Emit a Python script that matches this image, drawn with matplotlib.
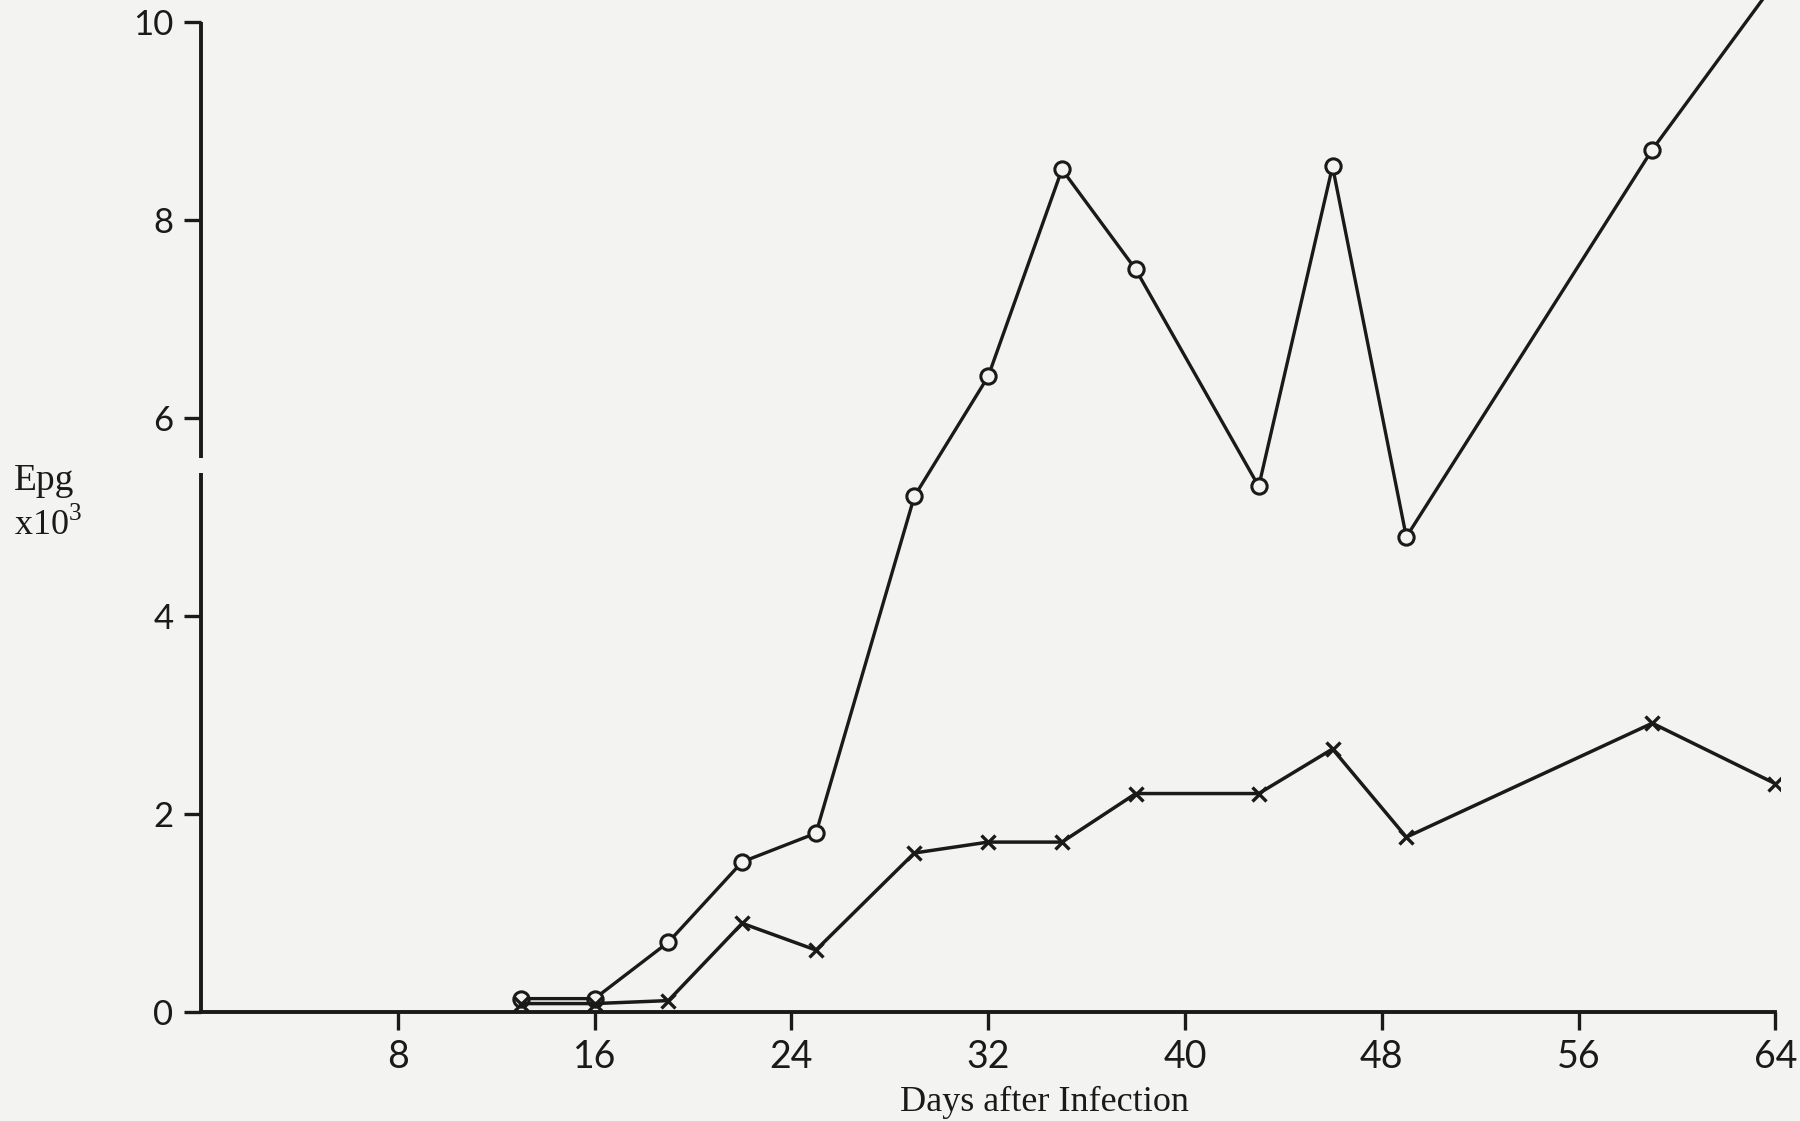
import matplotlib
matplotlib.use("Agg")
import matplotlib.pyplot as plt

# Eggs per gram (x10^3) by day after infection
days_o = [13, 16, 19, 22, 25, 29, 32, 35, 38, 43, 46, 49, 59, 64]
epg_o = [0.14, 0.14, 0.71, 1.52, 1.81, 5.21, 6.42, 8.51, 7.50, 5.31, 8.54, 4.80, 8.71, 10.4]

days_x = [13, 16, 19, 22, 25, 29, 32, 35, 38, 43, 46, 49, 59, 64]
epg_x = [0.09, 0.09, 0.12, 0.90, 0.63, 1.61, 1.72, 1.72, 2.21, 2.21, 2.66, 1.77, 2.92, 2.31]

x_ticks = [8, 16, 24, 32, 40, 48, 56, 64]
y_ticks = [0, 2, 4, 6, 8, 10]

paper = "#f3f3f1"
ink = "#1a1a1a"

plt.rcParams["mathtext.fontset"] = "custom"
plt.rcParams["mathtext.rm"] = "Liberation Serif"

fig = plt.figure(figsize=(18, 11.21), dpi=100, facecolor=paper)
ax = fig.add_axes([0.1117, 0.0968, 0.8773, 0.9032])
ax.set_facecolor(paper)

ax.plot(days_o, epg_o, color=ink, lw=2.4, marker="o", markersize=11,
        markerfacecolor=paper, markeredgecolor=ink, markeredgewidth=2.2, zorder=3)
ax.plot(days_x, epg_x, color=ink, lw=2.5, marker="x", markersize=10,
        markeredgewidth=2.4, zorder=3)

ax.set_xlim(0, 64.2)
ax.set_ylim(0, 10.22)

for s in ["top", "right", "left"]:
    ax.spines[s].set_visible(False)
ax.spines["bottom"].set_bounds(0, 64)
ax.spines["bottom"].set_linewidth(2.8)
ax.spines["bottom"].set_color(ink)

# broken y axis line (gap between 4 and 6)
ax.plot([0, 0], [0, 5.45], color=ink, lw=2.8, clip_on=False, solid_capstyle="butt")
ax.plot([0, 0], [5.6, 10], color=ink, lw=2.8, clip_on=False, solid_capstyle="butt")

ax.set_xticks(x_ticks)
ax.set_yticks(y_ticks)
ax.tick_params(axis="x", direction="out", length=13, width=2.4, pad=6,
               labelsize=27, colors=ink)
ax.tick_params(axis="y", direction="out", length=12, width=2.4, pad=8,
               labelsize=25, colors=ink)
for lab in ax.get_xticklabels() + ax.get_yticklabels():
    lab.set_family("Lato")

fig.text(0.58, 0.009, "Days after Infection", ha="center", va="baseline",
         fontsize=26, family="Liberation Serif", color=ink)
fig.text(0.0075, 0.563, "Epg", ha="left", va="baseline",
         fontsize=27, family="Liberation Serif", color=ink)
fig.text(0.0075, 0.523, "x10$^{3}$", ha="left", va="baseline",
         fontsize=26, family="Liberation Serif", color=ink)

fig.savefig("out.png", dpi=100, facecolor=paper)
